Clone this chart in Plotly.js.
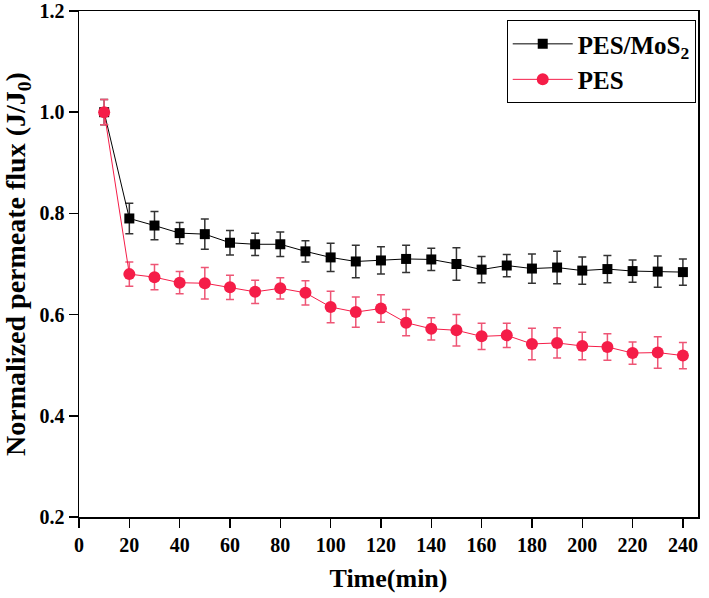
<!DOCTYPE html>
<html>
<head>
<meta charset="utf-8">
<script src="https://cdn.plot.ly/plotly-3.0.1.min.js"></script>
<style>html,body{margin:0;padding:0;background:#fff;}#chart{width:709px;height:598px;}</style>
</head>
<body>
<div id="chart"></div>
<script>
const time = [10, 20, 30, 40, 50, 60, 70, 80, 90, 100, 110, 120, 130, 140, 150, 160, 170, 180, 190, 200, 210, 220, 230, 240];
const pesMos2 = [1.0, 0.790, 0.776, 0.761, 0.759, 0.742, 0.739, 0.739, 0.725, 0.713, 0.705, 0.707, 0.710, 0.709, 0.700, 0.689, 0.697, 0.691, 0.693, 0.687, 0.690, 0.686, 0.685, 0.684];
const pesMos2Err = [0.025, 0.030, 0.028, 0.021, 0.030, 0.024, 0.022, 0.024, 0.021, 0.028, 0.032, 0.027, 0.027, 0.022, 0.032, 0.026, 0.022, 0.029, 0.032, 0.027, 0.027, 0.022, 0.031, 0.026];
const pes = [1.0, 0.680, 0.674, 0.663, 0.662, 0.654, 0.645, 0.652, 0.643, 0.615, 0.605, 0.612, 0.584, 0.572, 0.569, 0.557, 0.559, 0.542, 0.544, 0.538, 0.536, 0.524, 0.525, 0.519];
const pesErr = [0.025, 0.024, 0.025, 0.022, 0.031, 0.024, 0.023, 0.021, 0.024, 0.031, 0.030, 0.027, 0.026, 0.022, 0.031, 0.026, 0.024, 0.031, 0.030, 0.027, 0.026, 0.022, 0.031, 0.026];
const xTicks = [0, 20, 40, 60, 80, 100, 120, 140, 160, 180, 200, 220, 240];
const yTicks = [0.2, 0.4, 0.6, 0.8, 1.0, 1.2];
const yTickText = ['0.2', '0.4', '0.6', '0.8', '1.0', '1.2'];

const RED = '#f51d48';
const FONT = 'Liberation Serif, Times New Roman, serif';

const traces = [
  {
    x: time, y: pesMos2, name: 'PES/MoS<sub>2</sub>', type: 'scatter', mode: 'lines+markers',
    line: {color: '#000000', width: 1},
    marker: {symbol: 'square', size: 10, color: '#000000'},
    error_y: {type: 'data', array: pesMos2Err, visible: true, color: '#333333', thickness: 1.5, width: 4}
  },
  {
    x: time, y: pes, name: 'PES', type: 'scatter', mode: 'lines+markers',
    line: {color: RED, width: 1},
    marker: {symbol: 'circle', size: 12, color: RED},
    error_y: {type: 'data', array: pesErr, visible: true, color: '#ee5575', thickness: 1.5, width: 4}
  }
];

const layout = {
  width: 709, height: 598,
  margin: {l: 79, r: 11, t: 11, b: 81},
  paper_bgcolor: '#ffffff', plot_bgcolor: '#ffffff',
  font: {family: FONT, color: '#000000'},
  showlegend: true,
  legend: {
    x: 0.691, y: 0.982, xanchor: 'left', yanchor: 'top',
    bordercolor: '#000000', borderwidth: 1, bgcolor: '#ffffff',
    font: {family: FONT, size: 25, color: '#000000', weight: 'bold'},
    tracegroupgap: 0, itemwidth: 60
  },
  xaxis: {
    range: [0, 246], tickvals: xTicks, ticktext: xTicks.map(String),
    showgrid: false, zeroline: false,
    showline: true, linecolor: '#000000', linewidth: 1.5, mirror: true,
    ticks: 'outside', ticklen: 9, tickwidth: 1.5, tickcolor: '#000000',
    tickfont: {family: FONT, size: 20, color: '#000000', weight: 'bold'},
    title: {text: 'Time(min)', font: {family: FONT, size: 26, color: '#000000', weight: 'bold'}, standoff: 14}
  },
  yaxis: {
    range: [0.2, 1.2], tickvals: yTicks, ticktext: yTickText,
    showgrid: false, zeroline: false,
    showline: true, linecolor: '#000000', linewidth: 1.5, mirror: true,
    ticks: 'outside', ticklen: 9, tickwidth: 1.5, tickcolor: '#000000',
    tickfont: {family: FONT, size: 20, color: '#000000', weight: 'bold'},
    title: {text: 'Normalized permeate flux (J/J<sub>0</sub>)', font: {family: FONT, size: 28, color: '#000000', weight: 'bold'}, standoff: 5}
  }
};

Plotly.newPlot('chart', traces, layout, {displayModeBar: false, staticPlot: true});
</script>
</body>
</html>
